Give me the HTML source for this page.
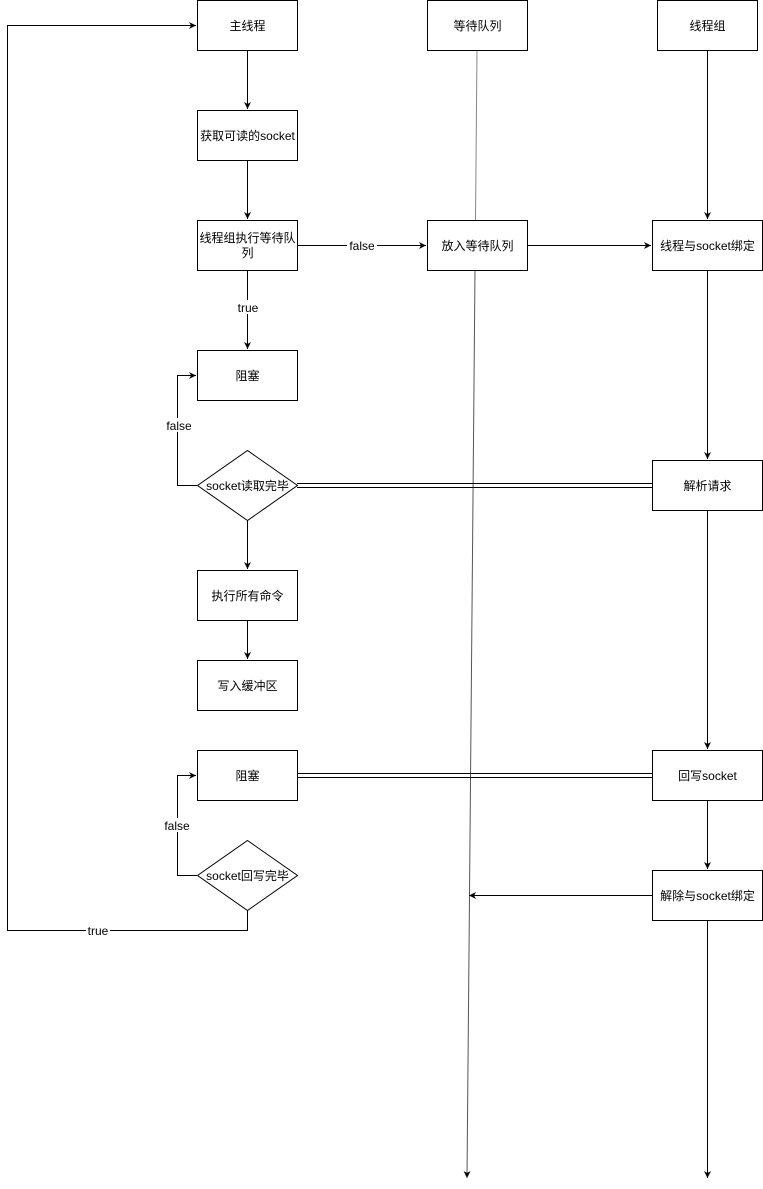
<!DOCTYPE html>
<html><head><meta charset="utf-8"><style>
html,body{margin:0;padding:0;background:#fff;}
svg{display:block;}
text{font-family:"Liberation Sans","Noto Sans CJK SC",sans-serif;font-size:12px;fill:#000;}
</style></head><body>
<svg width="763" height="1189" viewBox="0 0 763 1189" xmlns="http://www.w3.org/2000/svg">
<defs>
<marker id="a" markerWidth="8" markerHeight="8" refX="7" refY="4" orient="auto" markerUnits="userSpaceOnUse">
<path d="M0,0.5 L7,4 L0,7.5 L2,4 Z" fill="#000"/></marker>
</defs>
<g fill="none" stroke="#000" stroke-width="1">
<!-- waiting queue line -->
<line x1="477" y1="50" x2="475.5" y2="220" stroke="#888"/>
<line x1="475" y1="270" x2="467" y2="1178" stroke="#555" marker-end="url(#a)"/>
<!-- main column -->
<line x1="247.5" y1="50" x2="247.5" y2="109" marker-end="url(#a)"/>
<line x1="247.5" y1="160" x2="247.5" y2="219" marker-end="url(#a)"/>
<line x1="247.5" y1="270" x2="247.5" y2="349" marker-end="url(#a)"/>
<line x1="247.5" y1="520" x2="247.5" y2="569" marker-end="url(#a)"/>
<line x1="247.5" y1="620" x2="247.5" y2="659" marker-end="url(#a)"/>
<line x1="297" y1="245.5" x2="426" y2="245.5" marker-end="url(#a)"/>
<line x1="527" y1="245.5" x2="651" y2="245.5" marker-end="url(#a)"/>
<!-- thread group column -->
<line x1="707.5" y1="50" x2="707.5" y2="219" marker-end="url(#a)"/>
<line x1="707.5" y1="270" x2="707.5" y2="459" marker-end="url(#a)"/>
<line x1="707.5" y1="510" x2="707.5" y2="749" marker-end="url(#a)"/>
<line x1="707.5" y1="800" x2="707.5" y2="869" marker-end="url(#a)"/>
<line x1="707.5" y1="920" x2="707.5" y2="1178" marker-end="url(#a)"/>
<line x1="652" y1="895.5" x2="469" y2="895.5" marker-end="url(#a)"/>
<!-- double lines -->
<line x1="297" y1="483.5" x2="652" y2="483.5"/>
<line x1="297" y1="487.5" x2="652" y2="487.5"/>
<line x1="297" y1="773.5" x2="652" y2="773.5"/>
<line x1="297" y1="777.5" x2="652" y2="777.5"/>
<!-- false loops -->
<polyline points="197,485.5 177.5,485.5 177.5,375.5 196,375.5" marker-end="url(#a)"/>
<polyline points="197,875.5 177.5,875.5 177.5,775.5 196,775.5" marker-end="url(#a)"/>
<!-- true loop -->
<polyline points="247.5,910 247.5,930.5 7.5,930.5 7.5,25.5 196,25.5" marker-end="url(#a)"/>
<!-- boxes -->
<rect x="197.5" y="0.5" width="100" height="50" fill="#fff"/>
<rect x="427.5" y="0.5" width="100" height="50" fill="#fff"/>
<rect x="657.5" y="0.5" width="100" height="50" fill="#fff"/>
<rect x="197.5" y="110.5" width="100" height="50" fill="#fff"/>
<rect x="197.5" y="220.5" width="100" height="50" fill="#fff"/>
<rect x="427.5" y="220.5" width="100" height="50" fill="#fff"/>
<rect x="652.5" y="220.5" width="110" height="50" fill="#fff"/>
<rect x="197.5" y="350.5" width="100" height="50" fill="#fff"/>
<polygon points="247.5,450.5 297.5,485.5 247.5,520.5 197.5,485.5" fill="#fff"/>
<rect x="652.5" y="460.5" width="110" height="50" fill="#fff"/>
<rect x="197.5" y="570.5" width="100" height="50" fill="#fff"/>
<rect x="197.5" y="660.5" width="100" height="50" fill="#fff"/>
<rect x="197.5" y="750.5" width="100" height="50" fill="#fff"/>
<rect x="652.5" y="750.5" width="110" height="50" fill="#fff"/>
<polygon points="247.5,840.5 297.5,875.5 247.5,910.5 197.5,875.5" fill="#fff"/>
<rect x="652.5" y="870.5" width="110" height="50" fill="#fff"/>
</g>
<!-- labels backgrounds -->
<rect x="347" y="238" width="30" height="14" fill="#fff"/>
<rect x="236" y="300" width="24" height="14" fill="#fff"/>
<rect x="164" y="418" width="30" height="14" fill="#fff"/>
<rect x="162" y="818" width="30" height="14" fill="#fff"/>
<rect x="86" y="924" width="24" height="14" fill="#fff"/>
<g text-anchor="middle">
<text x="247.5" y="30">主线程</text>
<text x="477.5" y="30">等待队列</text>
<text x="707.5" y="30">线程组</text>
<text x="247.5" y="140">获取可读的socket</text>
<text x="247.5" y="242">线程组执行等待队</text>
<text x="247.5" y="257">列</text>
<text x="477.5" y="250">放入等待队列</text>
<text x="707.5" y="250">线程与socket绑定</text>
<text x="247.5" y="380">阻塞</text>
<text x="247.5" y="490">socket读取完毕</text>
<text x="707.5" y="490">解析请求</text>
<text x="247.5" y="600">执行所有命令</text>
<text x="247.5" y="690">写入缓冲区</text>
<text x="247.5" y="780">阻塞</text>
<text x="707.5" y="780">回写socket</text>
<text x="247.5" y="880">socket回写完毕</text>
<text x="707.5" y="900">解除与socket绑定</text>
<text x="362" y="250">false</text>
<text x="248" y="312">true</text>
<text x="179" y="430">false</text>
<text x="177" y="830">false</text>
<text x="98" y="935">true</text>
</g>
</svg>
</body></html>
